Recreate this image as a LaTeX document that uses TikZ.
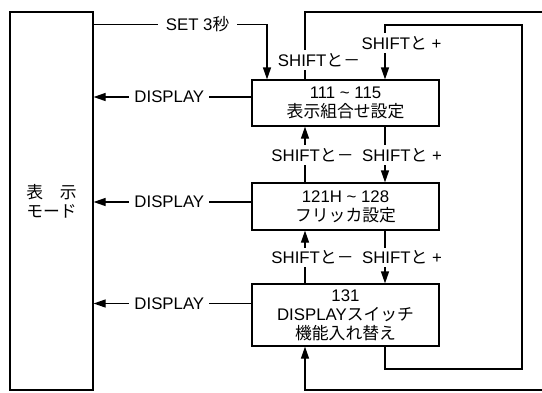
\documentclass[tikz,border=0pt]{standalone}
\usepackage{fontspec}
\setmainfont{Liberation Sans}
\newfontfamily\jp{Noto Sans CJK JP}
\usetikzlibrary{arrows.meta}
\newcommand\J[1]{{\jp #1}}
\begin{document}
\begin{tikzpicture}[x=1pt,y=-1pt, line width=1.2pt,
  every node/.style={font=\fontsize{16.8}{19}\selectfont},
  box/.style={draw, align=center, inner sep=0pt, minimum width=187pt},
  lab/.style={fill=white, inner xsep=2pt, inner ysep=3pt},
  arr/.style={-{Triangle[length=12pt,width=8pt]}}]
\useasboundingbox (0,0) rectangle (542,392);
% boxes
\node[draw, minimum width=83pt, minimum height=378pt, align=center, inner sep=0pt] (L) at (51.5,201) {\J{表　示}\\\J{モード}};
\node[box, minimum height=46pt] (b1) at (345.5,103) {111 \textasciitilde{} 115\\\J{表示組合せ設定}};
\node[box, minimum height=47pt] (b2) at (345.5,206.5) {121H \textasciitilde{} 128\\\J{フリッカ設定}};
\node[box, minimum height=62pt] (b3) at (345.5,315) {131\\DISPLAY\J{スイッチ}\\\J{機能入れ替え}};
% DISPLAY arrows
\draw[arr] ([yshift=6pt]b1.west) -- ([yshift=6pt]b1.west -| L.east) node[lab, inner xsep=5pt, pos=0.52] (d1) {DISPLAY};
\draw[arr] ([yshift=4.5pt]b2.west) -- ([yshift=4.5pt]b2.west -| L.east) node[lab, inner xsep=5pt, pos=0.52] (d2) {DISPLAY};
\draw[arr] ([yshift=11.5pt]b3.west) -- ([yshift=11.5pt]b3.west -| L.east) node[lab, inner xsep=5pt, pos=0.52] (d3) {DISPLAY};
% SET 3 s
\draw[arr] ([yshift=-13pt]L.north east) -| ([xshift=-78.5pt]b1.north) node[lab, pos=0.3, inner xsep=8pt] (set) {SET 3\J{秒}};
% between boxes
\draw[arr] ([xshift=-40.5pt]b2.north) -- ([xshift=-40.5pt]b1.south);
\draw[arr] ([xshift=39.5pt]b1.south) -- ([xshift=39.5pt]b2.north);
\draw[arr] ([xshift=-40.5pt]b3.north) -- ([xshift=-40.5pt]b2.south);
\draw[arr] ([xshift=39.5pt]b2.south) -- ([xshift=39.5pt]b3.north);
% loops
\coordinate (oT) at (542,12);
\coordinate (oB) at (542,390);
\coordinate (iB) at (522,369);
\coordinate (iT) at (522,25);
\draw ([xshift=-40.5pt]b1.north) |- (oT);
\draw[arr] (oB) -| ([xshift=-40.5pt]b3.south);
\draw[arr] ([xshift=39.5pt]b3.south) |- (iB) -- (iT) -| ([xshift=39.5pt]b1.north);
% labels
\node[lab] (m0) at (319,60) {SHIFT\J{と－}};
\node[lab] (p0) at (401.5,43) {SHIFT\J{と} +};
\node[lab] (m1) at (312.5,155) {SHIFT\J{と－}};
\node[lab] (p1) at (402,155) {SHIFT\J{と} +};
\node[lab] (m2) at (312.5,257.5) {SHIFT\J{と－}};
\node[lab] (p2) at (402,257.5) {SHIFT\J{と} +};
\end{tikzpicture}
\end{document}
